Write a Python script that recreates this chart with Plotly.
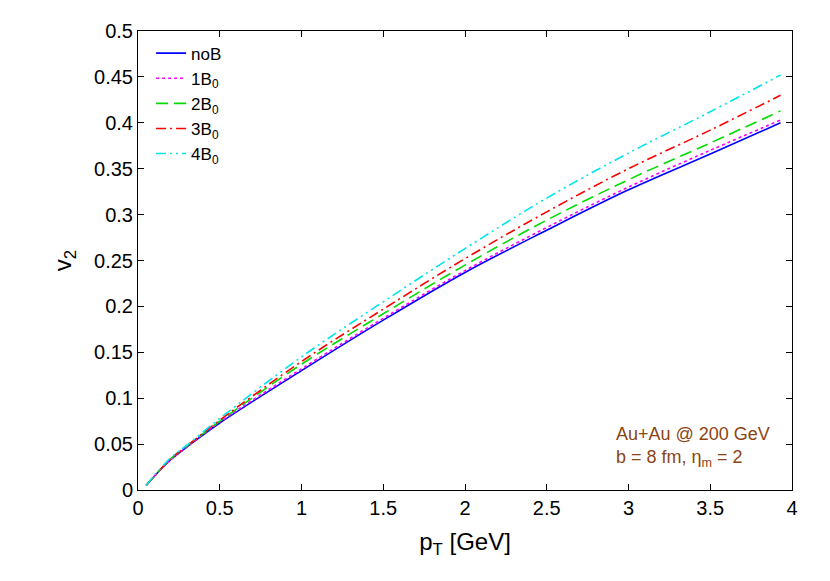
import plotly.graph_objects as go

pt = [0.05, 0.1, 0.2, 0.3, 0.5, 1.0, 1.5, 2.0, 2.5, 3.0, 3.5, 3.93]
v2_noB = [0.005, 0.015, 0.033, 0.047, 0.073, 0.130, 0.185, 0.237, 0.283, 0.327, 0.366, 0.400]
v2_1B = [0.005, 0.015, 0.033, 0.047, 0.074, 0.132, 0.187, 0.239, 0.286, 0.330, 0.370, 0.403]
v2_2B = [0.005, 0.015, 0.034, 0.048, 0.075, 0.137, 0.192, 0.245, 0.294, 0.338, 0.378, 0.413]
v2_3B = [0.005, 0.015, 0.034, 0.048, 0.076, 0.140, 0.197, 0.252, 0.303, 0.350, 0.392, 0.430]
v2_4B = [0.005, 0.016, 0.035, 0.049, 0.078, 0.145, 0.205, 0.263, 0.318, 0.367, 0.412, 0.452]

series = [
    ("noB", v2_noB, "#0000ff", "solid"),
    ("1B<sub>0</sub>", v2_1B, "#ff00ff", "dot"),
    ("2B<sub>0</sub>", v2_2B, "#00dd00", "12px,6px"),
    ("3B<sub>0</sub>", v2_3B, "#ff0000", "10px,4px,2px,4px"),
    ("4B<sub>0</sub>", v2_4B, "#00e5ee", "10px,4px,2px,4px,2px,4px"),
]

fig = go.Figure()
for name, y, c, d in series:
    fig.add_trace(go.Scatter(x=pt, y=y, name=name, mode="lines", line_shape="spline",
                             line=dict(color=c, dash=d, width=1.6)))

ax = dict(showgrid=False, zeroline=False, showline=True, linecolor="black", mirror="ticks",
          ticks="inside", ticklen=6, tickcolor="black", tickfont=dict(size=20))
fig.update_xaxes(range=[0, 4], dtick=0.5, title_text="p<sub>T</sub> [GeV]", **ax)
fig.update_yaxes(range=[0, 0.5], dtick=0.05, title_text="v<sub>2</sub>", **ax)
fig.add_annotation(x=0.97, y=0.04, xref="paper", yref="paper", xanchor="right", yanchor="bottom",
                   align="left", showarrow=False, font=dict(color="#8b4513", size=18),
                   text="Au+Au @ 200 GeV<br>b = 8 fm, η<sub>m</sub> = 2")
fig.update_layout(width=830, height=581, plot_bgcolor="white", paper_bgcolor="white",
                  margin=dict(l=130, r=46, t=18, b=99),
                  font=dict(family="Liberation Sans, Arial", size=20, color="black"),
                  legend=dict(x=0.02, y=0.99, bgcolor="rgba(0,0,0,0)", tracegroupgap=0,
                              font=dict(size=17)))
fig.write_html("out.html")
